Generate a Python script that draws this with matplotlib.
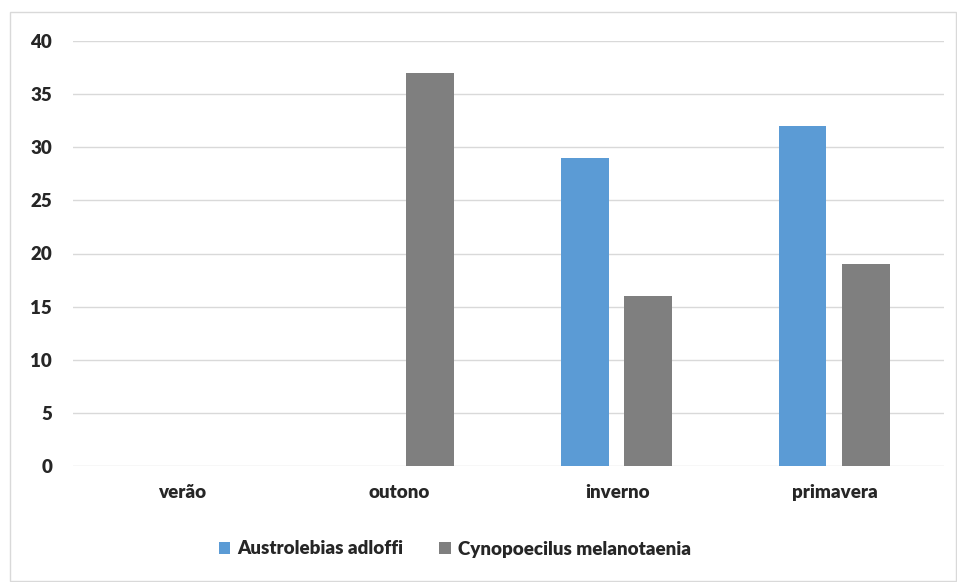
import numpy as np
import matplotlib.pyplot as plt
from matplotlib.patches import Rectangle

seasons = ['verão', 'outono', 'inverno', 'primavera']
austrolebias = [0, 0, 29, 32]
cynopoecilus = [0, 37, 16, 19]

plt.rcParams['font.family'] = ['Lato', 'DejaVu Sans']
plt.rcParams['font.weight'] = 'heavy'

fig = plt.figure(figsize=(9.57, 5.82), dpi=100)
# outer chart frame
fig.patches.append(Rectangle((10 / 957, 1 / 582), 946 / 957, 569 / 582,
                             transform=fig.transFigure, fill=False,
                             edgecolor='#d9d9d9', linewidth=1))

ax = fig.add_axes([73 / 957, 1 - 466 / 582, 871 / 957, 425 / 582])
x = np.arange(len(seasons))
w = 0.22
ax.bar(x - 0.15, austrolebias, w, color='#5b9bd5', label='Austrolebias adloffi', zorder=3)
ax.bar(x + 0.14, cynopoecilus, w, color='#7f7f7f', label='Cynopoecilus melanotaenia', zorder=3)

ax.set_xlim(-0.5, 3.5)
ax.set_ylim(0, 40)
ax.set_yticks(range(0, 41, 5))
ax.set_xticks(x)
ax.set_xticklabels(seasons)
ax.grid(axis='y', color='#d9d9d9', linewidth=1, zorder=0)
for s in ax.spines.values():
    s.set_visible(False)
ax.tick_params(axis='both', length=0, labelsize=13.5, colors='#262626')
ax.tick_params(axis='y', pad=15)
ax.tick_params(axis='x', pad=13)

fig.legend(loc='center', bbox_to_anchor=(455 / 957, 1 - 549 / 582), ncol=2, frameon=False,
           fontsize=13.5, handlelength=0.6, handleheight=0.6, handletextpad=0.4,
           columnspacing=1.9, labelcolor='#262626')

fig.savefig('out.png', dpi=100)
